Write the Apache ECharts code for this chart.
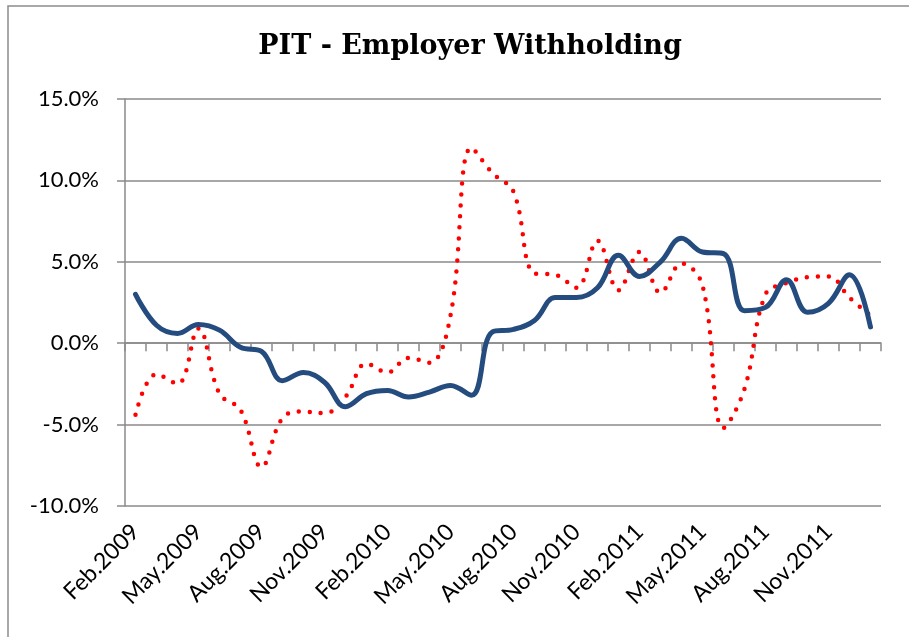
<!DOCTYPE html>
<html>
<head>
<meta charset="utf-8">
<script src="https://cdn.jsdelivr.net/npm/echarts@6/dist/echarts.min.js"></script>
<style>
  html, body { margin: 0; padding: 0; background: #fff; }
  #chart { width: 909px; height: 637px; }
</style>
</head>
<body>
<div id="chart"></div>
<script>
const months = [
  'Feb.2009', 'Mar.2009', 'Apr.2009', 'May.2009', 'Jun.2009', 'Jul.2009',
  'Aug.2009', 'Sep.2009', 'Oct.2009', 'Nov.2009', 'Dec.2009', 'Jan.2010',
  'Feb.2010', 'Mar.2010', 'Apr.2010', 'May.2010', 'Jun.2010', 'Jul.2010',
  'Aug.2010', 'Sep.2010', 'Oct.2010', 'Nov.2010', 'Dec.2010', 'Jan.2011',
  'Feb.2011', 'Mar.2011', 'Apr.2011', 'May.2011', 'Jun.2011', 'Jul.2011',
  'Aug.2011', 'Sep.2011', 'Oct.2011', 'Nov.2011', 'Dec.2011', 'Jan.2012'
]
// blue solid line
const solidValues = [
  3.0, 1.1, 0.6, 1.15, 0.8, -0.25, -0.5, -2.3, -1.8, -2.4, -3.9, -3.1,
  -2.9, -3.3, -3.0, -2.6, -3.2, 0.7, 0.85, 1.4, 2.8, 2.8, 3.4, 5.4,
  4.1, 5.0, 6.45, 5.6, 5.5, 2.0, 2.2, 3.9, 1.9, 2.45, 4.2, 1.0
]
// red dotted line
const dottedValues = [
  -4.4, -1.9, -2.5, 0.9, -3.1, -4.1, -7.6, -4.6, -4.2, -4.3, -3.3, -1.25,
  -1.8, -0.9, -1.2, 1.7, 12.0, 10.45, 9.3, 4.3, 4.2, 3.4, 6.3, 3.25,
  5.6, 3.1, 4.9, 3.55, -5.2, -2.8, 3.0, 3.7, 4.05, 4.1, 2.8, 1.7
]
const yTicks = { min: -10, max: 15, step: 5 }

const gridColor = '#8a8a8a'
const labelFont = 'Lato'

var myChart = echarts.init(document.getElementById('chart'))
const option = {
  animation: false,
  backgroundColor: '#fff',
  graphic: [{
    type: 'rect',
    shape: { x: 8, y: 6, width: 1000, height: 1000 },
    style: { fill: 'none', stroke: '#8c8c8c', lineWidth: 1.5 },
    silent: true
  }],
  title: {
    text: 'PIT - Employer Withholding',
    left: 465,
    textAlign: 'center',
    top: 28,
    textStyle: {
      fontFamily: 'DejaVu Serif',
      fontWeight: 'bold',
      fontSize: 27,
      color: '#000'
    }
  },
  grid: { left: 125, right: 28, top: 99, bottom: 131 },
  xAxis: [
    {
      type: 'category',
      data: months,
      boundaryGap: true,
      axisLine: { onZero: true, lineStyle: { color: gridColor, width: 1.5 } },
      axisTick: { show: true, interval: 0, length: 8, lineStyle: { color: gridColor, width: 1.5 } },
      axisLabel: { show: false }
    },
    {
      type: 'category',
      data: months,
      position: 'bottom',
      boundaryGap: true,
      axisLine: { show: false, onZero: false },
      axisTick: { show: false },
      axisLabel: {
        interval: 2,
        rotate: 45,
        margin: 22,
        fontFamily: labelFont,
        fontSize: 23,
        color: '#000'
      }
    }
  ],
  yAxis: {
    type: 'value',
    min: yTicks.min,
    max: yTicks.max,
    interval: yTicks.step,
    axisLine: { show: true, lineStyle: { color: gridColor, width: 1.5 } },
    axisTick: { show: true, length: 8, lineStyle: { color: gridColor, width: 1.5 } },
    splitLine: { lineStyle: { color: gridColor, width: 1.5 } },
    axisLabel: {
      margin: 26,
      fontFamily: labelFont,
      fontSize: 22,
      color: '#000',
      formatter: v => v.toFixed(1) + '%'
    }
  },
  series: [
    {
      type: 'line',
      xAxisIndex: 0,
      data: dottedValues,
      smooth: 0.4,
      showSymbol: false,
      lineStyle: { color: '#ff0000', width: 4.5, type: [0, 11], cap: 'round' }
    },
    {
      type: 'line',
      xAxisIndex: 0,
      data: solidValues,
      smooth: 0.4,
      showSymbol: false,
      lineStyle: { color: '#254c7f', width: 5, cap: 'round' }
    }
  ]
}
myChart.setOption(option)
</script>
</body>
</html>
